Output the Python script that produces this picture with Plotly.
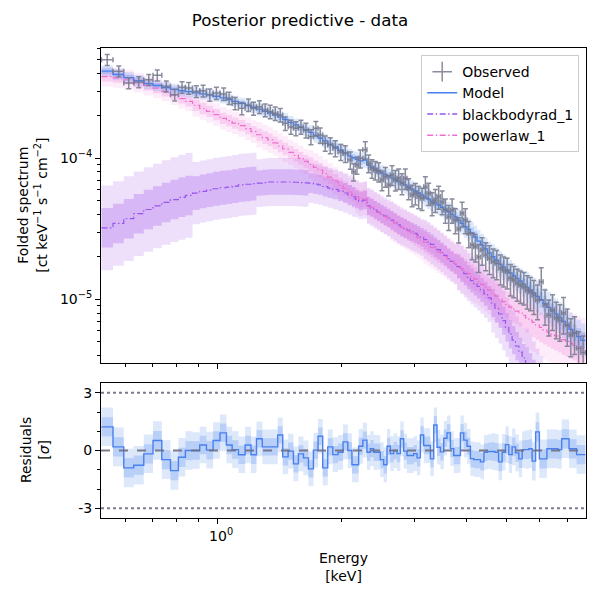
import numpy as np
import plotly.graph_objects as go

# ---------------- data ----------------
energy_keV = [
    0.543, 0.579, 0.612, 0.647, 0.684, 0.717, 0.754, 0.790, 0.823, 0.854,
    0.891, 0.925, 0.960, 0.996, 1.037, 1.069, 1.105, 1.147, 1.190, 1.224,
    1.265, 1.306, 1.343, 1.381, 1.420, 1.460, 1.507, 1.549, 1.593, 1.638,
    1.684, 1.731, 1.773, 1.823, 1.875, 1.928, 1.988, 2.038, 2.096, 2.134,
    2.175, 2.215, 2.278, 2.320, 2.364, 2.408, 2.453, 2.499, 2.546, 2.593,
    2.642, 2.692, 2.741, 2.793, 2.845, 2.898, 2.953, 3.008, 3.064, 3.122,
    3.180, 3.239, 3.301, 3.362, 3.424, 3.490, 3.554, 3.620, 3.689, 3.757,
    3.827, 3.900, 3.972, 4.046, 4.123, 4.200, 4.278, 4.359, 4.447, 4.539,
    4.633, 4.727, 4.826, 4.916, 5.010, 5.102, 5.197, 5.296, 5.395, 5.495,
    5.600, 5.702, 5.808, 5.929, 6.053, 6.182, 6.313, 6.445, 6.579, 6.712,
    6.851, 6.995, 7.136, 7.284, 7.450, 7.640]

observed_flux = [
    5.00e-4, 4.14e-4, 3.42e-4, 3.48e-4, 3.61e-4, 3.88e-4, 3.24e-4, 2.82e-4, 3.19e-4, 3.15e-4,
    2.98e-4, 3.01e-4, 2.82e-4, 2.90e-4, 2.86e-4, 2.67e-4, 2.45e-4, 2.26e-4, 2.39e-4, 2.26e-4,
    2.32e-4, 2.20e-4, 2.14e-4, 2.08e-4, 2.03e-4, 1.77e-4, 1.67e-4, 1.63e-4, 1.67e-4, 1.58e-4,
    1.42e-4, 1.63e-4, 1.46e-4, 1.28e-4, 1.24e-4, 1.18e-4, 1.11e-4, 1.08e-4, 9.73e-5, 8.04e-5,
    8.96e-5, 1.00e-4, 1.15e-4, 9.22e-5, 8.49e-5, 8.26e-5, 8.04e-5, 7.02e-5, 7.41e-5, 6.47e-5,
    7.62e-5, 7.02e-5, 7.21e-5, 6.65e-5, 7.21e-5, 6.12e-5, 5.49e-5, 5.65e-5, 5.35e-5, 5.20e-5,
    6.29e-5, 5.65e-5, 4.80e-5, 5.06e-5, 5.35e-5, 4.92e-5, 4.30e-5, 3.85e-5, 4.30e-5, 3.65e-5,
    3.15e-5, 4.07e-5, 3.65e-5, 2.94e-5, 2.43e-5, 2.36e-5, 2.00e-5, 2.24e-5, 2.06e-5, 1.95e-5,
    1.85e-5, 1.80e-5, 1.66e-5, 1.61e-5, 1.57e-5, 1.41e-5, 1.37e-5, 1.30e-5, 1.26e-5, 1.23e-5,
    1.16e-5, 1.13e-5, 1.07e-5, 9.9e-6, 1.33e-5, 9.1e-6, 7.7e-6, 8.4e-6, 7.4e-6, 7.1e-6,
    8.0e-6, 6.6e-6, 5.6e-6, 5.8e-6, 4.5e-6, 4.2e-6]

observed_rel_err = [
    0.09, 0.09, 0.09, 0.09, 0.09, 0.09, 0.09, 0.095, 0.095, 0.095,
    0.095, 0.095, 0.10, 0.10, 0.10, 0.10, 0.10, 0.10, 0.10, 0.105,
    0.105, 0.105, 0.11, 0.11, 0.11, 0.11, 0.115, 0.115, 0.115, 0.12,
    0.12, 0.12, 0.125, 0.125, 0.13, 0.13, 0.13, 0.135, 0.14, 0.14,
    0.14, 0.145, 0.14, 0.145, 0.15, 0.15, 0.155, 0.16, 0.16, 0.165,
    0.16, 0.165, 0.165, 0.17, 0.165, 0.17, 0.175, 0.175, 0.18, 0.18,
    0.175, 0.18, 0.185, 0.185, 0.185, 0.19, 0.195, 0.20, 0.195, 0.20,
    0.205, 0.20, 0.20, 0.21, 0.215, 0.22, 0.225, 0.22, 0.225, 0.23,
    0.23, 0.235, 0.24, 0.24, 0.245, 0.25, 0.25, 0.255, 0.26, 0.26,
    0.265, 0.265, 0.27, 0.275, 0.26, 0.28, 0.285, 0.285, 0.29, 0.29,
    0.29, 0.295, 0.30, 0.30, 0.31, 0.31]

model_log10_flux = [
    -3.382, -3.406, -3.428, -3.449, -3.470, -3.484, -3.499, -3.511, -3.521, -3.528,
    -3.536, -3.543, -3.551, -3.560, -3.572, -3.584, -3.597, -3.611, -3.626, -3.638,
    -3.652, -3.667, -3.679, -3.693, -3.707, -3.725, -3.745, -3.763, -3.781, -3.799,
    -3.816, -3.838, -3.856, -3.877, -3.899, -3.920, -3.943, -3.962, -3.984, -3.996,
    -4.008, -4.019, -4.012, -4.049, -4.062, -4.076, -4.090, -4.104, -4.115, -4.127,
    -4.139, -4.150, -4.162, -4.175, -4.189, -4.204, -4.218, -4.232, -4.246, -4.260,
    -4.274, -4.289, -4.303, -4.317, -4.331, -4.347, -4.363, -4.379, -4.398, -4.416,
    -4.438, -4.462, -4.484, -4.505, -4.530, -4.558, -4.587, -4.615, -4.642, -4.671,
    -4.698, -4.723, -4.750, -4.771, -4.792, -4.813, -4.832, -4.852, -4.870, -4.892,
    -4.913, -4.934, -4.955, -4.979, -5.003, -5.030, -5.057, -5.082, -5.104, -5.128,
    -5.156, -5.185, -5.213, -5.239, -5.265, -5.291]

powerlaw_log10_flux = [
    -3.421, -3.430, -3.443, -3.463, -3.484, -3.503, -3.526, -3.552, -3.577, -3.597,
    -3.624, -3.647, -3.668, -3.691, -3.717, -3.733, -3.750, -3.769, -3.790, -3.811,
    -3.833, -3.853, -3.870, -3.891, -3.913, -3.934, -3.958, -3.979, -4.001, -4.022,
    -4.043, -4.065, -4.083, -4.108, -4.133, -4.161, -4.192, -4.214, -4.239, -4.255,
    -4.272, -4.289, -4.282, -4.337, -4.347, -4.363, -4.379, -4.402, -4.416, -4.431,
    -4.445, -4.459, -4.473, -4.487, -4.501, -4.516, -4.531, -4.548, -4.564, -4.581,
    -4.597, -4.613, -4.631, -4.647, -4.663, -4.680, -4.696, -4.713, -4.730, -4.746,
    -4.762, -4.781, -4.799, -4.818, -4.838, -4.856, -4.874, -4.894, -4.914, -4.935,
    -4.957, -4.977, -4.998, -5.016, -5.036, -5.055, -5.069, -5.083, -5.097, -5.113,
    -5.131, -5.147, -5.163, -5.182, -5.199, -5.216, -5.232, -5.246, -5.260, -5.272,
    -5.285, -5.299, -5.311, -5.324, -5.338, -5.350]

blackbody_log10_flux = [
    -4.493, -4.462, -4.428, -4.393, -4.363, -4.338, -4.313, -4.293, -4.277, -4.263,
    -4.247, -4.235, -4.226, -4.216, -4.209, -4.204, -4.197, -4.188, -4.184, -4.180,
    -4.176, -4.172, -4.168, -4.168, -4.168, -4.168, -4.168, -4.170, -4.172, -4.174,
    -4.176, -4.183, -4.189, -4.200, -4.211, -4.221, -4.233, -4.246, -4.260, -4.274,
    -4.289, -4.303, -4.296, -4.338, -4.352, -4.367, -4.381, -4.395, -4.409, -4.423,
    -4.438, -4.455, -4.472, -4.487, -4.498, -4.510, -4.522, -4.533, -4.545, -4.560,
    -4.576, -4.592, -4.611, -4.629, -4.648, -4.668, -4.689, -4.711, -4.731, -4.750,
    -4.768, -4.792, -4.817, -4.843, -4.867, -4.888, -4.909, -4.933, -4.961, -4.990,
    -5.026, -5.065, -5.104, -5.151, -5.199, -5.246, -5.289, -5.331, -5.374, -5.416,
    -5.459, -5.501, -5.548, -5.601, -5.653, -5.707, -5.761, -5.814, -5.866, -5.917,
    -5.970, -6.022, -6.073, -6.126, -6.178, -6.229]

residual_sigma = [
    1.23, 0.19, -0.90, -0.76, -0.17, 0.52, -0.47, -1.04, -0.35, 0.00,
    0.00, 0.29, 0.02, 0.52, 0.92, 0.29, 0.05, -0.22, 0.29, -0.22,
    0.61, 0.19, 0.19, 0.19, 0.81, -0.33, -0.03, -0.69, -0.17, -0.38,
    -0.95, 0.02, 0.74, -0.90, 0.19, -0.21, -0.09, 0.45, 0.00, -0.74,
    -0.74, 0.22, 0.54, -0.09, 0.10, -0.09, -0.09, -0.47, -0.74, 0.22,
    -0.16, 0.00, -0.16, 0.61, -0.03, -0.26, -0.26, -0.16, -0.38, 0.81,
    0.26, 0.26, -0.43, 1.33, 0.17, -0.07, 0.64, 0.92, 0.10, -0.26,
    -0.26, 0.92, 0.54, 0.22, -0.42, -0.47, -0.47, -0.59, -0.09, -0.05,
    -0.05, -0.09, -0.59, -0.09, 0.31, -0.21, 0.19, -0.12, -0.43, 0.05,
    0.05, 0.09, -0.55, 0.97, -0.43, -0.43, 0.09, 0.09, 0.09, 0.05,
    0.61, 0.61, 0.09, 0.09, -0.21, -0.21]

# credible-band half widths, per energy segment
band_segment_upper_keV = [0.87, 1.245, 1.66, 2.155, 2.62, 3.15, 3.79, 4.58, 5.55, 6.78, 10.0]
model_half68_dex = [0.020, 0.020, 0.022, 0.025, 0.028, 0.030, 0.035, 0.040, 0.045, 0.055, 0.060]
model_half95_dex = [0.040, 0.040, 0.045, 0.050, 0.055, 0.060, 0.070, 0.080, 0.090, 0.110, 0.120]
powerlaw_half68_dex = [0.035, 0.040, 0.045, 0.050, 0.060, 0.070, 0.075, 0.085, 0.095, 0.105, 0.110]
powerlaw_half95_dex = [0.070, 0.080, 0.090, 0.100, 0.120, 0.140, 0.150, 0.170, 0.190, 0.210, 0.220]
blackbody_half68_dex = [0.140, 0.120, 0.090, 0.070, 0.065, 0.065, 0.070, 0.085, 0.100, 0.120, 0.140]
blackbody_half95_dex = [0.300, 0.220, 0.170, 0.140, 0.130, 0.130, 0.140, 0.170, 0.210, 0.250, 0.280]
residual_half68 = [0.50, 0.48, 0.45, 0.45, 0.45, 0.45, 0.45, 0.45, 0.48, 0.50, 0.50]
residual_half95 = [1.00, 0.95, 0.90, 0.90, 0.90, 0.90, 0.90, 0.90, 0.95, 1.00, 1.00]

n = len(energy_keV)
for arr in (observed_flux, observed_rel_err, model_log10_flux, powerlaw_log10_flux,
            blackbody_log10_flux, residual_sigma):
    assert len(arr) == n, len(arr)

# ---------------- derived geometry ----------------
E = np.asarray(energy_keV)
logE = np.log10(E)
mids = 0.5 * (logE[1:] + logE[:-1])
edges = 10 ** np.concatenate([[2 * logE[0] - mids[0]], mids, [2 * logE[-1] - mids[-1]]])
seg = np.searchsorted(band_segment_upper_keV, E)


def stepped(v):
    v = np.asarray(v, float)
    return np.append(v, v[-1])


FONT = "DejaVu Sans"
GRAY = "rgba(118,120,140,0.85)"
BLUE = "rgb(72,128,240)"
PURPLE = "rgb(150,85,238)"
PINK = "rgb(238,110,205)"

fig = go.Figure()


def add_band(lo, hi, color, xa="x", ya="y"):
    fig.add_trace(go.Scatter(x=edges, y=stepped(lo), mode="lines",
                             line=dict(width=0, shape="hv"), hoverinfo="skip",
                             showlegend=False, xaxis=xa, yaxis=ya))
    fig.add_trace(go.Scatter(x=edges, y=stepped(hi), mode="lines",
                             line=dict(width=0, shape="hv"), fill="tonexty",
                             fillcolor=color, hoverinfo="skip",
                             showlegend=False, xaxis=xa, yaxis=ya))


components = [
    (blackbody_log10_flux, blackbody_half68_dex, blackbody_half95_dex,
     "rgba(138,43,226,0.15)", "rgba(138,43,226,0.22)"),
    (powerlaw_log10_flux, powerlaw_half68_dex, powerlaw_half95_dex,
     "rgba(238,100,210,0.12)", "rgba(238,100,210,0.20)"),
    (model_log10_flux, model_half68_dex, model_half95_dex,
     "rgba(100,149,237,0.22)", "rgba(100,149,237,0.30)"),
]
for L, h68, h95, c95, c68 in components:
    L = np.asarray(L)
    w95 = np.asarray(h95)[seg]
    w68 = np.asarray(h68)[seg]
    add_band(10 ** (L - w95), 10 ** (L + w95), c95)
    add_band(10 ** (L - w68), 10 ** (L + w68), c68)

dashdot = "6px,2.5px,1.5px,2.5px"
fig.add_trace(go.Scatter(x=edges, y=stepped(10 ** np.asarray(blackbody_log10_flux)),
                         mode="lines", line=dict(color=PURPLE, width=1.2, shape="hv", dash=dashdot),
                         showlegend=False, hoverinfo="skip"))
fig.add_trace(go.Scatter(x=edges, y=stepped(10 ** np.asarray(powerlaw_log10_flux)),
                         mode="lines", line=dict(color=PINK, width=1.2, shape="hv", dash=dashdot),
                         showlegend=False, hoverinfo="skip"))
fig.add_trace(go.Scatter(x=edges, y=stepped(10 ** np.asarray(model_log10_flux)),
                         mode="lines", line=dict(color=BLUE, width=1.3, shape="hv"),
                         showlegend=False, hoverinfo="skip"))

obs = np.asarray(observed_flux)
fig.add_trace(go.Scatter(
    x=E, y=obs, mode="markers", marker=dict(size=1, color=GRAY),
    error_x=dict(type="data", symmetric=False, array=edges[1:] - E,
                 arrayminus=E - edges[:-1], color=GRAY, thickness=1.5, width=2.5),
    error_y=dict(type="data", array=obs * np.asarray(observed_rel_err),
                 color=GRAY, thickness=1.5, width=2.5),
    showlegend=False, hoverinfo="skip"))

# residual panel
R = np.asarray(residual_sigma)
r95 = np.asarray(residual_half95)[seg]
r68 = np.asarray(residual_half68)[seg]
add_band(R - r95, R + r95, "rgba(100,149,237,0.22)", "x2", "y2")
add_band(R - r68, R + r68, "rgba(100,149,237,0.30)", "x2", "y2")
fig.add_trace(go.Scatter(x=edges, y=stepped(R), mode="lines",
                         line=dict(color=BLUE, width=1.4, shape="hv"),
                         showlegend=False, hoverinfo="skip", xaxis="x2", yaxis="y2"))

# legend-only entries
fig.add_trace(go.Scatter(x=[None], y=[None], mode="markers", name="Observed", legendrank=1,
                         marker=dict(symbol="cross-thin", size=14,
                                     line=dict(width=1.5, color=GRAY))))
fig.add_trace(go.Scatter(x=[None], y=[None], mode="lines", name="Model", legendrank=2,
                         line=dict(color=BLUE, width=1.5)))
fig.add_trace(go.Scatter(x=[None], y=[None], mode="lines", name="blackbodyrad_1", legendrank=3,
                         line=dict(color=PURPLE, width=1.5, dash=dashdot)))
fig.add_trace(go.Scatter(x=[None], y=[None], mode="lines", name="powerlaw_1", legendrank=4,
                         line=dict(color=PINK, width=1.5, dash=dashdot)))

axis_common = dict(showline=True, mirror=True, linecolor="black", linewidth=1,
                   showgrid=False, zeroline=False, ticks="outside", ticklen=5,
                   tickwidth=1, tickcolor="black",
                   tickfont=dict(family=FONT, size=14, color="black"))

x_minor = [0.6, 0.7, 0.8, 0.9, 2, 3, 4, 5, 6, 7]
x_range = [-0.2802, 0.890]

fig.update_layout(
    width=600, height=600,
    margin=dict(l=101, r=14, t=48, b=82),
    paper_bgcolor="white", plot_bgcolor="white",
    font=dict(family=FONT, size=14, color="black"),
    title=dict(text="Posterior predictive - data", x=0.5, xref="container",
               y=1 - 20 / 600, yref="container", yanchor="middle", xanchor="center",
               font=dict(family=FONT, size=16.7, color="black")),
    xaxis=dict(axis_common, type="log", range=x_range, domain=[0, 1], anchor="y",
               tickvals=[1], showticklabels=False,
               minor=dict(tickvals=x_minor, ticks="outside", ticklen=3, tickwidth=1,
                          tickcolor="black")),
    yaxis=dict(axis_common, type="log", range=[-5.454, -3.218], domain=[0.329, 1],
               anchor="x", tickvals=[1e-5, 1e-4],
               ticktext=["10<sup>\u22125</sup>", "10<sup>\u22124</sup>"],
               minor=dict(tickvals=[k * 1e-6 for k in range(2, 10)] +
                          [k * 1e-5 for k in range(2, 10)] +
                          [k * 1e-4 for k in range(2, 7)],
                          ticks="outside", ticklen=3, tickwidth=1, tickcolor="black")),
    xaxis2=dict(axis_common, type="log", range=x_range, domain=[0, 1], anchor="y2",
                matches="x", tickvals=[1], ticktext=["10<sup>0</sup>"], ticklabelshift=4,
                minor=dict(tickvals=x_minor, ticks="outside", ticklen=3, tickwidth=1,
                           tickcolor="black")),
    yaxis2=dict(axis_common, range=[-3.5, 3.5], domain=[0, 0.287], anchor="x2",
                tickvals=[-3, 0, 3], ticktext=["-3", "0", "3"],
                minor=dict(tickvals=[-2, -1, 1, 2], ticks="outside", ticklen=3,
                           tickwidth=1, tickcolor="black")),
    legend=dict(x=0.986, xanchor="right", y=0.985, yanchor="top", traceorder="normal",
                bgcolor="rgba(255,255,255,0.85)", bordercolor="#cccccc", borderwidth=1,
                font=dict(family=FONT, size=14, color="black"), tracegroupgap=0),
    showlegend=True,
    shapes=[
        dict(type="line", xref="x2 domain", yref="y2", x0=0, x1=1, y0=3, y1=3,
             line=dict(color="rgba(110,110,130,0.9)", width=2, dash="dot")),
        dict(type="line", xref="x2 domain", yref="y2", x0=0, x1=1, y0=-3, y1=-3,
             line=dict(color="rgba(110,110,130,0.9)", width=2, dash="dot")),
        dict(type="line", xref="x2 domain", yref="y2", x0=0, x1=1, y0=0, y1=0,
             line=dict(color="rgba(110,110,130,0.9)", width=2, dash="dash")),
    ],
    annotations=[
        dict(text="Folded spectrum<br>[ct keV<sup>\u22121</sup> s<sup>\u22121</sup> cm<sup>\u22122</sup>]",
             xref="paper", yref="paper", x=-0.142, y=(0.329 + 1) / 2, textangle=-90,
             xanchor="center", yanchor="middle", showarrow=False,
             font=dict(family=FONT, size=14, color="black")),
        dict(text="Residuals<br>[<i>\u03c3</i>]",
             xref="paper", yref="paper", x=-0.137, y=0.287 / 2, textangle=-90,
             xanchor="center", yanchor="middle", showarrow=False,
             font=dict(family=FONT, size=14, color="black")),
        dict(text="Energy<br>[keV]", xref="paper", yref="paper", x=0.5, y=-0.104,
             xanchor="center", yanchor="middle", showarrow=False,
             font=dict(family=FONT, size=14, color="black")),
    ],
)

fig.write_html("out.html")
